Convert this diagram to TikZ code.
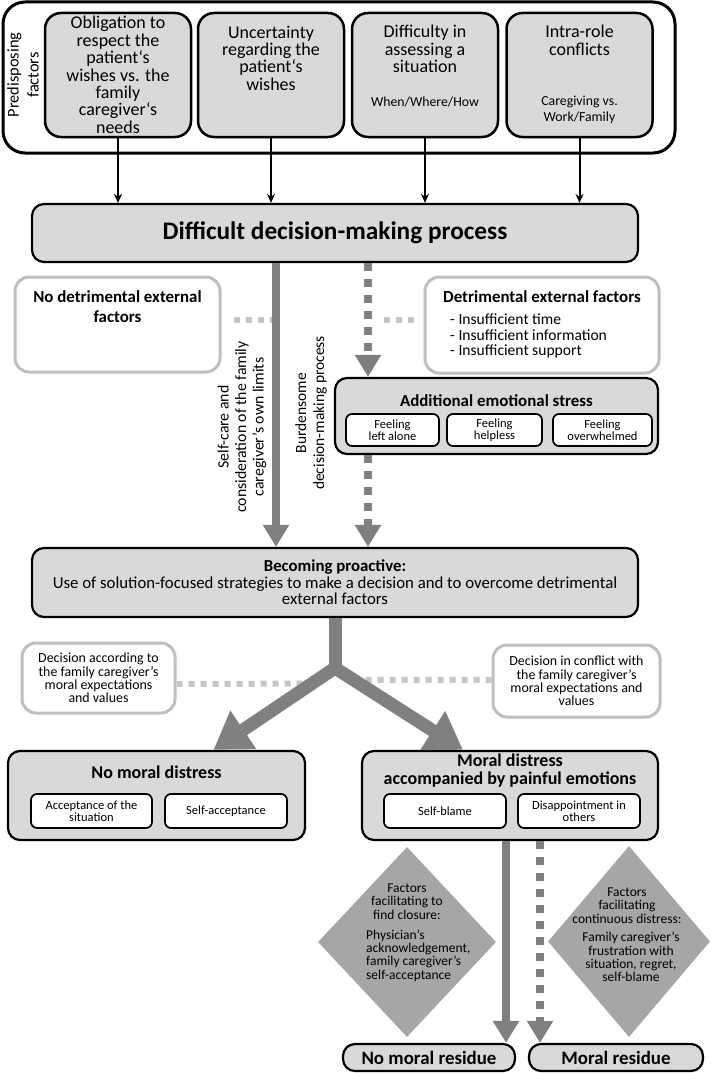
\documentclass[tikz,border=0pt]{standalone}
\usepackage{fontspec}
\setmainfont{Carlito}
\usetikzlibrary{arrows.meta}
\usetikzlibrary{shapes.geometric}
\usetikzlibrary{positioning}
\usetikzlibrary{calc}
\definecolor{boxgray}{HTML}{D9D9D9}
\definecolor{diagray}{HTML}{A6A6A6}
\definecolor{flowgray}{HTML}{808080}
\definecolor{dotgray}{HTML}{C6C6C6}
\definecolor{rimgray}{HTML}{BFBFBF}
\newcommand{\fsz}[2]{\fontsize{#1}{#2}\selectfont}
\tikzset{
  pbox/.style={draw=black, line width=2.5pt, fill=boxgray, rounded corners=16pt,
    minimum width=146pt, minimum height=124pt, inner sep=0pt},
  graybox/.style={draw=black, line width=2.2pt, fill=boxgray, rounded corners=12pt,
    inner sep=0pt, align=center},
  litebox/.style={draw=rimgray, line width=3pt, fill=white, rounded corners=14pt,
    inner sep=0pt, align=center},
  subbox/.style={draw=black, line width=1.7pt, fill=white, rounded corners=6pt,
    inner sep=0pt, align=center, font=\fsz{12.5}{12.5}},
  midbox/.style={subbox, minimum width=122pt, minimum height=34pt},
  dia/.style={diamond, fill=diagray, inner sep=0pt},
  txt/.style={inner sep=0pt, align=center},
  blackarrow/.style={draw=black, line width=2pt, -{Stealth[length=9pt,width=8pt]}},
  flow/.style={draw=flowgray, line width=8pt, -{Triangle[width=25pt,length=22pt]}},
  dflow/.style={flow, dash pattern=on 8pt off 8pt},
  dotline/.style={draw=dotgray, line width=6pt, dash pattern=on 6pt off 6pt},
}
\begin{document}
\begin{tikzpicture}[x=1pt, y=-1pt]
    \useasboundingbox (0,0) rectangle (710,1073);
    % predisposing factors
    \node[draw, line width=3pt, rounded corners=22pt, minimum width=672pt, minimum height=151pt] (pre) at (339,77.5) {};
    \node[txt, rotate=90, font=\fsz{16.4}{20}] (pret) at (23,75) {Predisposing\\factors};
    \foreach \i/\cx in {1/118,2/271,3/425,4/579.5}
        \node[pbox] (pf\i) at (\cx,75) {};
    \node[txt, font=\fsz{18}{17.4}] (pf1t) at (118,75) {Obligation to\\respect the\\patient‘s\\wishes vs. the\\family\\caregiver‘s\\needs};
    \node[txt, font=\fsz{18}{17.4}] (pf2t) at (271,58) {Uncertainty\\regarding the\\patient‘s\\wishes};
    \node[txt, font=\fsz{18}{17.4}] (pf3t) at (425,49) {Difficulty in\\assessing a\\situation};
    \node[txt, font=\fsz{13.8}{16}] (pf3s) at (425,102) {When/Where/How};
    \node[txt, font=\fsz{18}{17.4}] (pf4t) at (579.5,40.5) {Intra-role\\conflicts};
    \node[txt, font=\fsz{13.8}{16}] (pf4s) at (579.5,110) {Caregiving vs.\\Work/Family};

    % decision-making process
    \node[graybox, minimum width=606pt, minimum height=58pt, font=\fsz{25.3}{27}\bfseries] (dec) at (335,233) {Difficult decision-making process};
    \foreach \i in {1,...,4}
        \draw[blackarrow] (pf\i.south) -- (pf\i.south |- dec.north);

    % external factors
    \node[litebox, minimum width=205pt, minimum height=95pt] (ndx) at (117.5,324.5) {};
    \node[txt, font=\fsz{16.9}{20}\bfseries] (ndxt) at (117.5,307) {No detrimental external\\factors};
    \node[litebox, minimum width=234pt, minimum height=96pt] (det) at (542,325) {};
    \node[txt, font=\fsz{16.9}{20}\bfseries] (dett) at (542,297) {Detrimental external factors};
    \node[txt, align=left, anchor=west, font=\fsz{15.6}{15.5}] (detl) at (450,336) {- Insufficient time\\- Insufficient information\\- Insufficient support};

    % emotional stress
    \node[graybox, minimum width=323pt, minimum height=76pt] (emo) at (496.5,416) {};
    \node[txt, font=\fsz{16.9}{20}\bfseries] (emot) at (496.5,401) {Additional emotional stress};
    \node[subbox, minimum width=93pt, minimum height=32pt] (emo1) at (392.5,430) {Feeling\\left alone};
    \node[subbox, minimum width=95pt, minimum height=32pt] (emo2) at (494.5,430) {Feeling\\helpless};
    \node[subbox, minimum width=99pt, minimum height=32pt] (emo3) at (602.5,430) {Feeling\\overwhelmed};

    % becoming proactive
    \node[graybox, minimum width=606pt, minimum height=69pt, font=\fsz{16.8}{16.5}] (pro) at (335,582.5) {\textbf{Becoming proactive:}\\Use of solution-focused strategies to make a decision and to overcome detrimental\\external factors};

    \coordinate (stop) at ([xshift=-59pt]dec.south);
    \coordinate (dtop) at ([xshift=33pt]dec.south);
    \draw[dotline] ([xshift=12pt,yshift=5pt]ndx.east) -- ([yshift=5pt]ndx.east -| stop);
    \draw[dotline] ([xshift=-10pt,yshift=5pt]det.west) -- ([xshift=15pt,yshift=5pt]det.west -| dtop);
    \draw[flow] (stop) -- (stop |- pro.north);
    \draw[dflow] (dtop) -- (dtop |- emo.north);
    \draw[dflow] (dtop |- emo.south) -- (dtop |- pro.north);
    \node[txt, rotate=90, font=\fsz{15.8}{17.5}] (selfc) at (242,427) {Self-care and\\consideration of the family\\caregiver’s own limits};
    \node[txt, rotate=90, font=\fsz{15.5}{18}] (burd) at (311,413) {Burdensome\\decision-making process};

    % decisions
    \node[litebox, minimum width=153pt, minimum height=70pt, font=\fsz{13.9}{13.4}] (decacc) at (98.5,678) {Decision according to\\the family caregiver’s\\moral expectations\\and values};
    \node[litebox, minimum width=167pt, minimum height=72pt, font=\fsz{13.9}{13.4}] (decconf) at (576.5,681) {Decision in conflict with\\the family caregiver’s\\moral expectations and\\values};

    % moral distress
    \node[graybox, minimum width=297pt, minimum height=89pt] (nomd) at (156.5,795.5) {};
    \node[txt, font=\fsz{18}{18}\bfseries] (nomdt) at (156.5,772) {No moral distress};
    \node[midbox, minimum width=121pt] (nomd1) at (91.5,811) {Acceptance of the\\situation};
    \node[midbox] (nomd2) at (226,811) {Self-acceptance};
    \node[graybox, minimum width=296pt, minimum height=89pt] (md) at (510,795.5) {};
    \node[txt, font=\fsz{18}{18}\bfseries] (mdt) at (510,771) {Moral distress\\accompanied by painful emotions};
    \node[midbox] (md1) at (445,811) {Self-blame};
    \node[midbox] (md2) at (579,811) {Disappointment in\\others};

    \coordinate (fork) at (335,668);
    \coordinate (ltip) at ([xshift=57pt]nomd.north);
    \coordinate (rtip) at ([xshift=-47pt]md.north);
    \draw[dotline] ([yshift=-6pt]decacc.east) -- ($(fork)!0.19!(ltip)$);
    \draw[dotline] ([yshift=1pt]decconf.west) -- ($(fork)!0.145!(rtip)$);
    \draw[draw=flowgray, line width=13pt] (pro.south) -- (fork);
    \draw[draw=flowgray, line width=13pt, {Triangle[width=44pt,length=36pt]}-{Triangle[width=44pt,length=36pt]}] (ltip) -- (fork) -- (rtip);

    % residue
    \node[dia, minimum width=178pt, minimum height=190pt] (dia1) at (407,942) {};
    \node[txt, font=\fsz{13.5}{13.5}] (dia1h) at (407,901.5) {Factors\\facilitating to\\find closure:};
    \node[txt, align=left, anchor=west, font=\fsz{13.5}{13.3}] (dia1b) at (366,955.5) {Physician’s\\acknowledgement,\\family caregiver’s\\self-acceptance};
    \node[dia, minimum width=162pt, minimum height=191pt] (dia2) at (629,941.5) {};
    \node[txt, font=\fsz{13.5}{13.5}] (dia2h) at (627,905.5) {Factors\\facilitating\\continuous distress:};
    \node[txt, font=\fsz{13.5}{13.3}] (dia2b) at (631,957) {Family caregiver’s\\frustration with\\situation, regret,\\self-blame};
    \node[graybox, minimum width=172pt, minimum height=27pt, font=\fsz{18.9}{20}\bfseries] (nmr) at (429,1057.5) {No moral residue};
    \node[graybox, minimum width=174pt, minimum height=27pt, font=\fsz{18.9}{20}\bfseries] (mr) at (616,1057.5) {Moral residue};
    \coordinate (sbot) at ([xshift=-4pt]md.south);
    \coordinate (dbot) at ([xshift=30pt]md.south);
    \draw[flow] (sbot) -- (sbot |- nmr.north);
    \draw[dflow] (dbot) -- (dbot |- mr.north);
\end{tikzpicture}
\end{document}
